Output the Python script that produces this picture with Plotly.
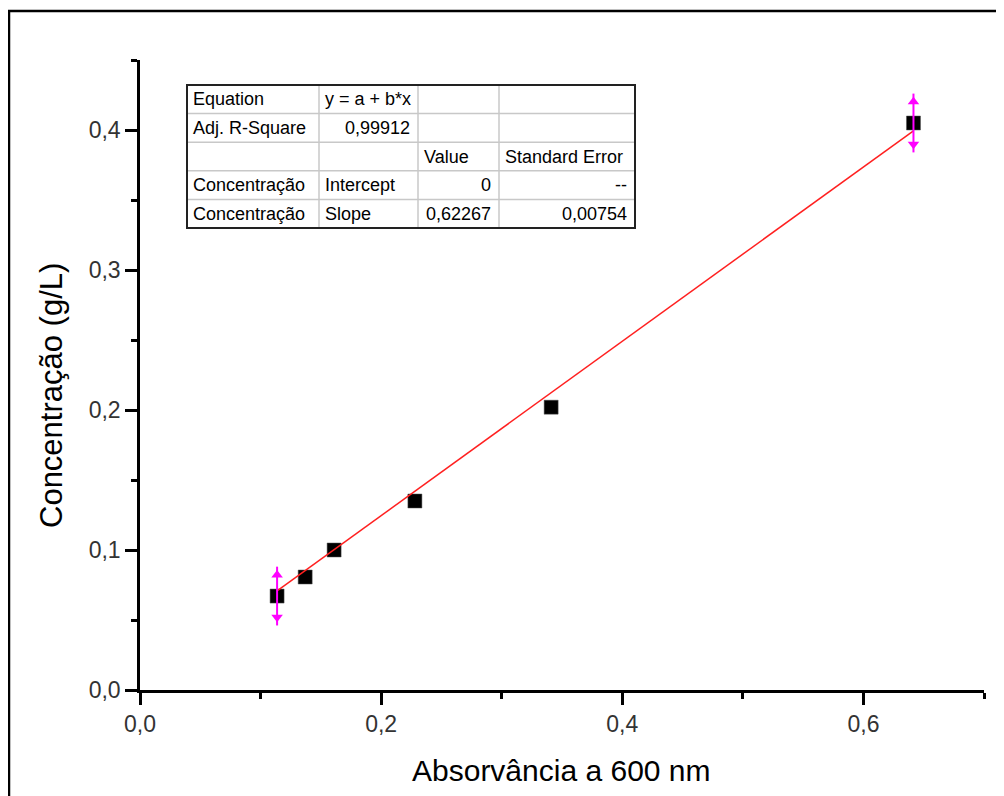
import plotly.graph_objects as go

# ---------------- data ----------------
absorbance = [0.1137, 0.137, 0.161, 0.228, 0.341, 0.6415]
concentration = [0.0671, 0.0807, 0.100, 0.135, 0.202, 0.405]
fit_slope = 0.62267
fit_intercept = 0.0
range_idx = [0, 5]          # first / last point of the fit range (data selectors)
range_err = 0.021

x_ticks = [0.0, 0.2, 0.4, 0.6]
y_ticks = [0.0, 0.1, 0.2, 0.3, 0.4]

table_col1 = ["Equation", "Adj. R-Square", "", "Concentração", "Concentração"]
table_col2 = ["y = a + b*x", "0,99912", "", "Intercept", "Slope"]
table_col3 = ["", "", "Value", "0", "0,62267"]
table_col4 = ["", "", "Standard Error", "--", "0,00754"]

x_title = "Absorvância a 600 nm"
y_title = "Concentração (g/L)"

# ---------------- layout geometry (screen pixels) ----------------
OFF = 8                       # page body margin
SW, SH = 1004, 796
W, H = SW - OFF, SH - OFF
L, R, T, B = 140, 984, 60, 690
PW, PH = R - L, B - T


def px(x):
    return (x - L) / PW


def py(y):
    return (B - y) / PH


FONT = "Liberation Sans, Arial, sans-serif"

fig = go.Figure()

# data points
fig.add_trace(go.Scatter(
    x=absorbance, y=concentration, mode="markers",
    marker=dict(symbol="square", size=14, color="black",
                line=dict(color="#555", width=0.5)),
    showlegend=False, hoverinfo="x+y"))

# fit line
fx = [min(absorbance), max(absorbance)]
fy = [fit_intercept + fit_slope * v for v in fx]
fig.add_trace(go.Scatter(
    x=fx, y=fy, mode="lines", line=dict(color="#FF2020", width=1.5),
    showlegend=False, hoverinfo="skip"))

# range markers (magenta)
rx = [absorbance[i] for i in range_idx]
ry = [concentration[i] for i in range_idx]
fig.add_trace(go.Scatter(
    x=rx, y=ry, mode="markers", marker=dict(size=1, color="rgba(0,0,0,0)"),
    error_y=dict(type="constant", value=range_err, color="#FF00FF",
                 thickness=2, width=0),
    showlegend=False, hoverinfo="skip"))
fig.add_trace(go.Scatter(
    x=rx, y=[v + 0.72 * range_err for v in ry], mode="markers",
    marker=dict(symbol="triangle-up", size=10, color="#FF00FF"),
    showlegend=False, hoverinfo="skip"))
fig.add_trace(go.Scatter(
    x=rx, y=[v - 0.72 * range_err for v in ry], mode="markers",
    marker=dict(symbol="triangle-down", size=10, color="#FF00FF"),
    showlegend=False, hoverinfo="skip"))

# ---------------- table ----------------
col_edges = [187, 319, 418, 499, 635]
row_edges = [85, 113.6, 142.2, 170.8, 199.4, 228]
shapes = []
for xe in col_edges[1:-1]:
    shapes.append(dict(type="line", xref="paper", yref="paper",
                       x0=px(xe), x1=px(xe), y0=py(row_edges[0]), y1=py(row_edges[-1]),
                       line=dict(color="#C8C8C8", width=1.5)))
for ye in row_edges[1:-1]:
    shapes.append(dict(type="line", xref="paper", yref="paper",
                       x0=px(col_edges[0]), x1=px(col_edges[-1]), y0=py(ye), y1=py(ye),
                       line=dict(color="#C8C8C8", width=1.5)))
shapes.append(dict(type="rect", xref="paper", yref="paper",
                   x0=px(col_edges[0]), x1=px(col_edges[-1]),
                   y0=py(row_edges[0]), y1=py(row_edges[-1]),
                   line=dict(color="#222", width=2)))
# outer frame of the picture
shapes.append(dict(type="rect", xref="paper", yref="paper",
                   x0=px(9), x1=px(1030), y0=py(11), y1=py(830),
                   line=dict(color="black", width=2.5)))

annotations = []
cols = [table_col1, table_col2, table_col3, table_col4]
for ci, col in enumerate(cols):
    for ri, txt in enumerate(col):
        if not txt:
            continue
        numeric = txt[0].isdigit() or txt[0] == "-"
        yc = (row_edges[ri] + row_edges[ri + 1]) / 2
        if numeric:
            xa, anchor = col_edges[ci + 1] - 6, "right"
        else:
            xa, anchor = col_edges[ci] + 4, "left"
        annotations.append(dict(
            xref="paper", yref="paper", x=px(xa), y=py(yc),
            xanchor=anchor, yanchor="middle", text=txt, showarrow=False,
            font=dict(family=FONT, size=18, color="black")))

# axis titles
annotations.append(dict(xref="paper", yref="paper", x=px(561), y=py(770),
                        xanchor="center", yanchor="middle", text=x_title,
                        showarrow=False,
                        font=dict(family=FONT, size=30, color="black")))
annotations.append(dict(xref="paper", yref="paper", x=px(51), y=py(396),
                        xanchor="center", yanchor="middle", text=y_title,
                        textangle=-90, showarrow=False,
                        font=dict(family=FONT, size=31, color="black")))

axis_common = dict(
    showline=True, linecolor="black", linewidth=2.5, mirror=False,
    ticks="outside", ticklen=12, tickwidth=2.5, tickcolor="black",
    showgrid=False, zeroline=False, tickformat=".1f",
    tickfont=dict(family=FONT, size=23, color="#333"),
)

fig.update_layout(
    width=W, height=H,
    margin=dict(l=L - OFF, r=SW - R, t=T - OFF, b=SH - B, pad=0),
    paper_bgcolor="white", plot_bgcolor="white",
    separators=", ",
    xaxis=dict(range=[0, 0.7], tickvals=x_ticks,
               minor=dict(ticks="outside", ticklen=6, tickwidth=2.5,
                          tickcolor="black", dtick=0.1, tick0=0, showgrid=False),
               **axis_common),
    yaxis=dict(range=[0, 0.45], tickvals=y_ticks,
               minor=dict(ticks="outside", ticklen=6, tickwidth=2.5,
                          tickcolor="black", dtick=0.05, tick0=0, showgrid=False),
               **axis_common),
    shapes=shapes, annotations=annotations,
    showlegend=False,
)

fig.write_html("out.html")
